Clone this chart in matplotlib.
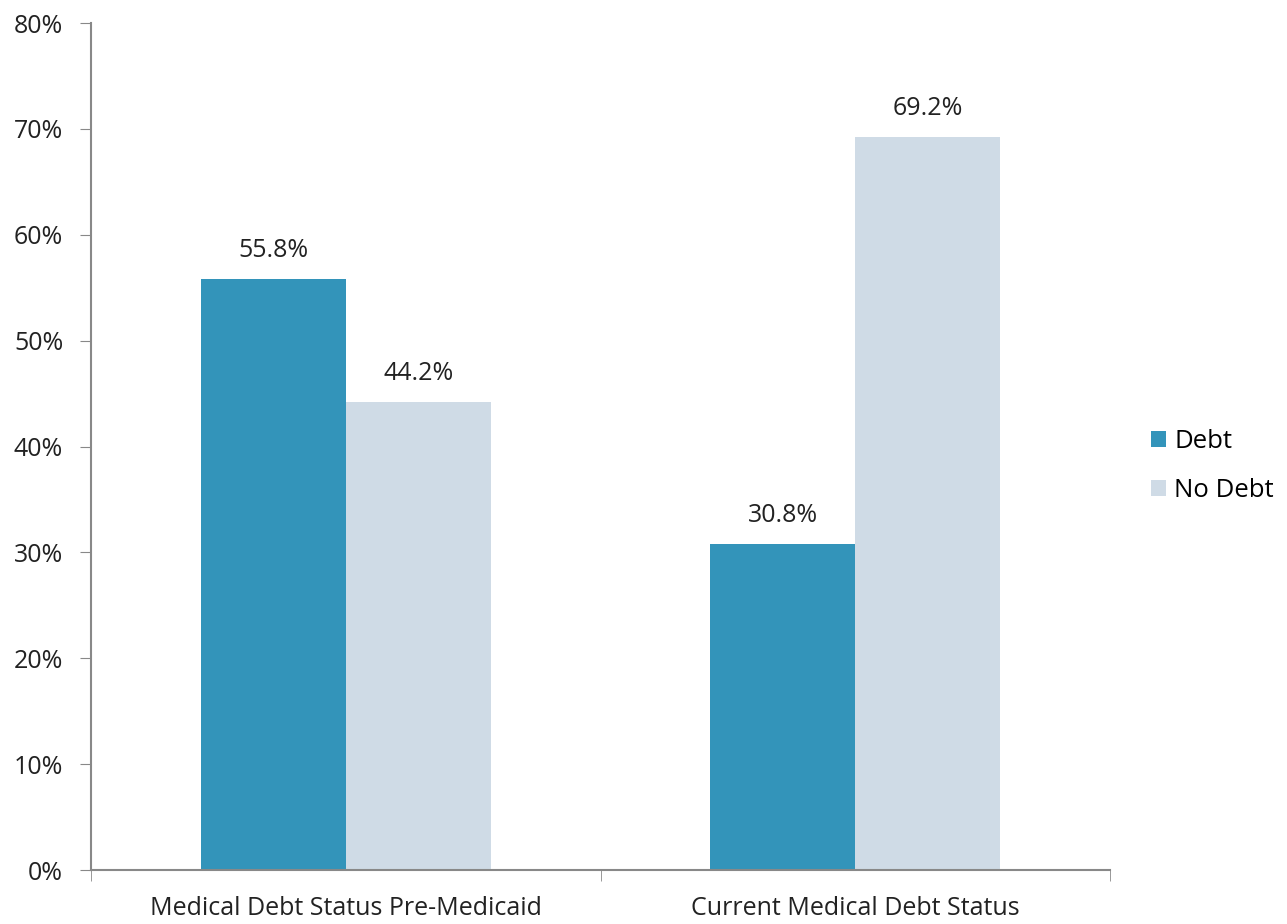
import matplotlib.pyplot as plt
from matplotlib.ticker import FixedLocator

plt.rcParams['font.family'] = ['Open Sans', 'DejaVu Sans']

categories = ["Medical Debt Status Pre-Medicaid", "Current Medical Debt Status"]
debt = [55.8, 30.8]
no_debt = [44.2, 69.2]
series_names = ["Debt", "No Debt"]
colors = ["#3394BA", "#CFDBE6"]

fig = plt.figure(figsize=(12.87, 9.24), dpi=100)
ax = fig.add_axes([0.0707, 0.0584, 0.7918, 0.9167])

w = 0.285
x = list(range(len(categories)))
b1 = ax.bar([i - w / 2 for i in x], debt, w, color=colors[0], label=series_names[0])
b2 = ax.bar([i + w / 2 for i in x], no_debt, w, color=colors[1], label=series_names[1])

for bars, vals in ((b1, debt), (b2, no_debt)):
    for r, v in zip(bars, vals):
        ax.text(r.get_x() + r.get_width() / 2, v + 1.5, f"{v:.1f}%",
                ha="center", va="bottom", fontsize=18, color="#222222")

ax.set_xlim(-0.5, 1.5)
ax.set_ylim(0, 80)
ax.set_yticks(range(0, 81, 10))
ax.set_yticklabels([f"{t}%" for t in range(0, 81, 10)])
ax.set_xticks(x)
ax.set_xticklabels(categories)
ax.xaxis.set_minor_locator(FixedLocator([-0.5, 0.5, 1.5]))
ax.tick_params(axis="x", which="major", length=0, labelsize=18, pad=19, colors="#222222")
ax.tick_params(axis="x", which="minor", length=8, color="#888888")
ax.tick_params(axis="y", length=8, color="#888888", labelsize=18, labelcolor="#222222", pad=12)

for s in ("top", "right"):
    ax.spines[s].set_visible(False)
for s in ("left", "bottom"):
    ax.spines[s].set_color("#888888")
    ax.spines[s].set_linewidth(1.5)

ax.legend(loc="center left", bbox_to_anchor=(1.03, 0.477), frameon=False,
          fontsize=18.5, handlelength=0.6, handleheight=0.6, handletextpad=0.3,
          labelspacing=0.95, borderaxespad=0)

fig.savefig("out.png", dpi=100)
